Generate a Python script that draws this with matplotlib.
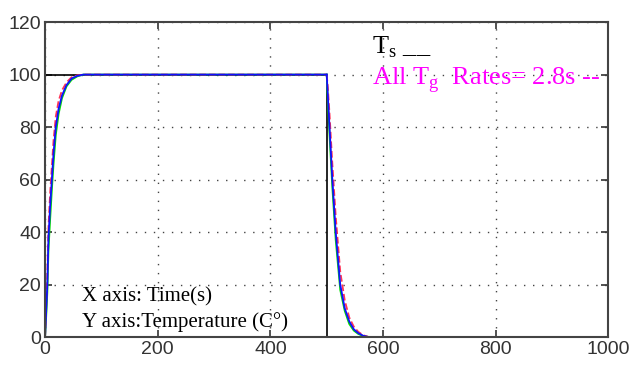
import numpy as np
import matplotlib.pyplot as plt

plt.rcParams['mathtext.fontset'] = 'custom'
plt.rcParams['mathtext.rm'] = 'Liberation Serif'

# setpoint (step up at 0, down at 500)
t_set = [0, 0, 500, 500, 1000]
y_set = [0, 100, 100, 0, 0]

# responses (rise after t=0, fall after t=500)
t_rise = [0, 2, 4, 6, 9, 12, 15, 19, 24, 30, 38, 47, 57, 68, 80, 500]
blue_rise = [0, 10, 20, 38, 50, 60, 70, 80, 87, 92, 96, 98.5, 99.5, 100, 100, 100]
red_rise = [0, 12, 24, 42, 55, 65, 75, 84, 90, 94, 97, 99, 99.7, 100, 100, 100]
green_rise = [0, 8, 17, 33, 45, 56, 66, 77, 85, 91, 95.5, 98, 99.3, 100, 100, 100]

t_fall = [500, 502, 505, 510, 516, 524, 532, 540, 548, 556, 565, 575, 1000]
blue_fall = [100, 92, 80, 60, 40, 20, 11, 6, 3, 1.5, 0.5, 0, 0]
red_fall = [100, 95, 85, 66, 46, 25, 14, 7.5, 4, 2, 0.7, 0, 0]
green_fall = [100, 90, 77, 57, 37, 18, 10, 5, 2.5, 1.2, 0.4, 0, 0]

fig = plt.figure(figsize=(6.35, 3.68), dpi=100)
ax = fig.add_axes([0.071, 0.084, 0.887, 0.856])

ax.plot(t_set, y_set, color='black', lw=1.2)
ax.plot(t_rise, green_rise, color='#00dd00', lw=1.3)
ax.plot(t_fall, green_fall, color='#00dd00', lw=1.3)
ax.plot(t_rise, red_rise, color='#ff3355', lw=1.3, ls='--')
ax.plot(t_fall, red_fall, color='#ff3355', lw=1.3, ls='--')
ax.plot(t_rise, blue_rise, color='#1010ff', lw=1.3)
ax.plot(t_fall, blue_fall, color='#1010ff', lw=1.3)

ax.set_xlim(0, 1000)
ax.set_ylim(0, 120)
ax.set_xticks(range(0, 1001, 200))
ax.set_yticks(range(0, 121, 20))
ax.grid(True, color='#444444', ls=(0, (1, 5.5)), lw=1)
ax.tick_params(direction='in', top=True, right=True, length=5, width=1.2,
               labelsize=14, labelcolor='#333333', color='#333333', pad=3)
for lab in ax.get_xticklabels() + ax.get_yticklabels():
    lab.set_family('Liberation Sans')
for s in ax.spines.values():
    s.set_color('#444444')
    s.set_linewidth(1.5)

ax.text(580, 110.5, r'T$_{\rm s}$ __', family='Liberation Serif', fontsize=19,
        color='black', va='center')
ax.text(580, 98, r'All T$_{\rm g}$  Rates= 2.8s --', family='Liberation Serif',
        fontsize=19, color='#ff00ff', va='center')
ax.text(66, 15.3, 'X axis: Time(s)', family='Liberation Serif', fontsize=15,
        color='black', va='center')
ax.text(66, 5.7, 'Y axis:Temperature (C\u00b0)', family='Liberation Serif',
        fontsize=15, color='black', va='center')

fig.savefig('out.png', dpi=100)
